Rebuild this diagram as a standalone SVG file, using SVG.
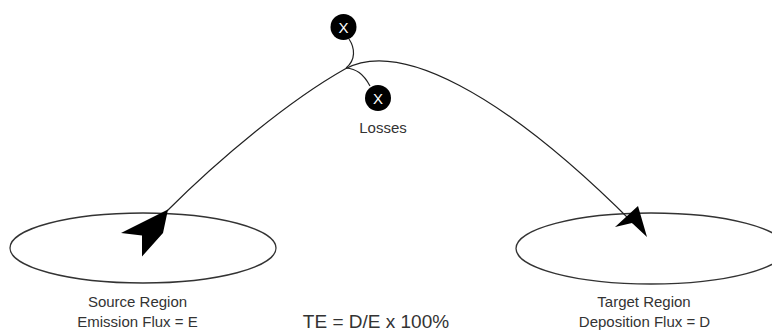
<svg xmlns="http://www.w3.org/2000/svg" width="772" height="331" viewBox="0 0 772 331">
<style>
.region{fill:none;stroke:#333;stroke-width:1.3}
.line{fill:none;stroke:#222;stroke-width:1.2}
.lbl{font-family:"Liberation Sans",Arial,sans-serif;font-size:15px;fill:#333;text-anchor:middle}
.x{font-family:"Liberation Sans",Arial,sans-serif;font-size:15px;fill:#fff;text-anchor:middle}
.head{fill:#000}
</style>
<rect width="772" height="331" fill="#fff"/>
<g id="source">
<ellipse class="region" cx="143" cy="248" rx="133" ry="35"/>
<text class="lbl" x="137.5" y="307">Source Region</text>
<text class="lbl" x="137.5" y="327">Emission Flux = E</text>
</g>
<g id="target">
<ellipse class="region" cx="651" cy="248.5" rx="135" ry="35.5"/>
<text class="lbl" x="644" y="307">Target Region</text>
<text class="lbl" x="644.5" y="327">Deposition Flux = D</text>
</g>
<g id="loss1">
<circle cx="343.5" cy="27" r="13" fill="#000"/>
<text class="x" x="343.5" y="32.5">X</text>
</g>
<g id="loss2">
<circle cx="378" cy="98" r="13" fill="#000"/>
<text class="x" x="378" y="103.5">X</text>
<text class="lbl" x="383" y="133">Losses</text>
</g>
<g id="formula">
<text class="lbl" x="376" y="328" style="font-size:19px">TE = D/E x 100%</text>
</g>
<g id="connectors">
<path class="line" d="M167,211 C220,158 290,100 345,69 C398,40 500,90 633,223"/>
<path class="line" d="M349,39 C355,48 356,60 346,68"/>
<path class="line" d="M346,68 C356,69 363,73 370,86"/>
<polygon class="head" points="168,209.5 121,233 142,235.5 142,256.5 163,233"/>
<polygon class="head" points="647,237 638,206 615,227 632,223"/>
</g>
</svg>
